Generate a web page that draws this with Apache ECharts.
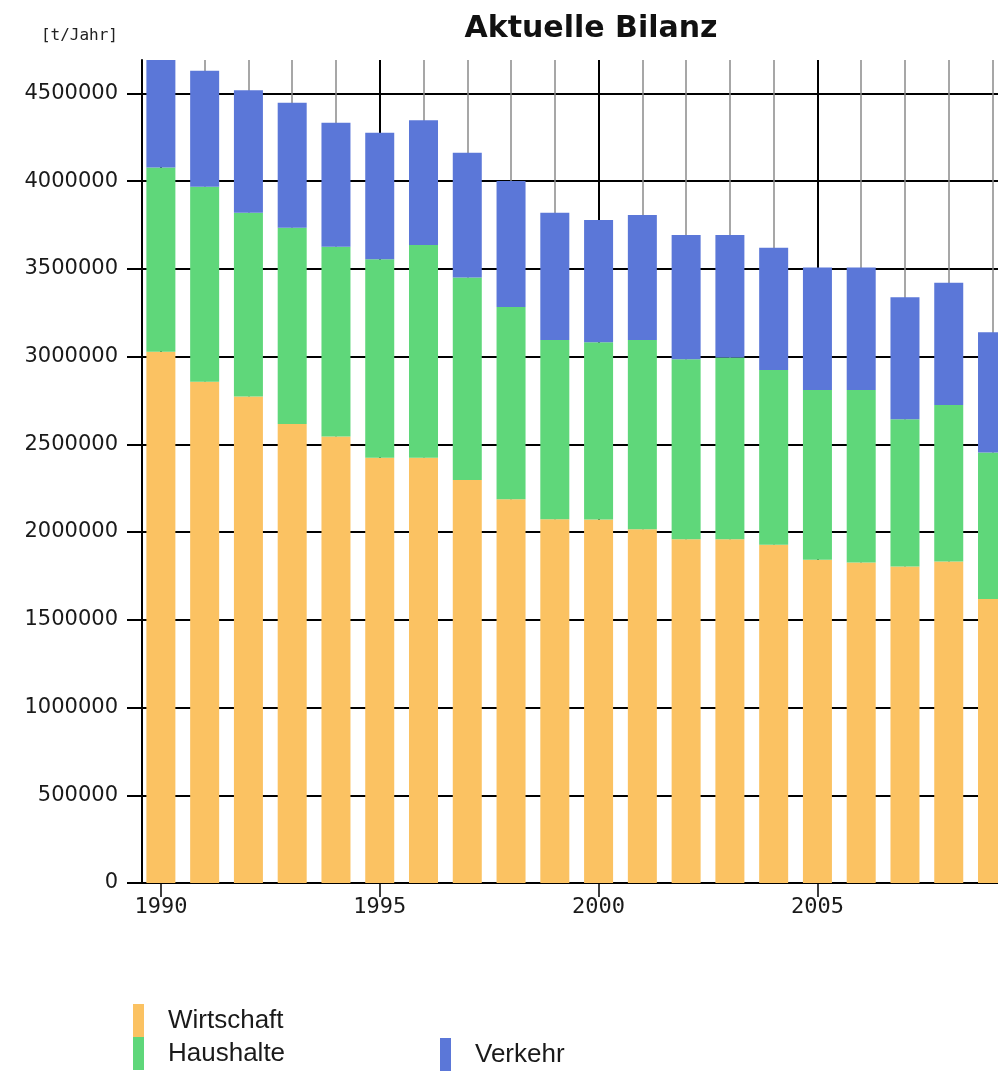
<!DOCTYPE html>
<html>
<head>
<meta charset="utf-8">
<script src="https://cdn.jsdelivr.net/npm/echarts@6/dist/echarts.min.js"></script>
<style>
  html, body { margin: 0; padding: 0; background: #ffffff; overflow: hidden; }
  #chart { width: 998px; height: 1071px; }
</style>
</head>
<body>
<div id="chart"></div>
<script>
// CO2 balance per sector, tonnes per year
const years = ['1990', '1991', '1992', '1993', '1994', '1995', '1996', '1997', '1998', '1999',
               '2000', '2001', '2002', '2003', '2004', '2005', '2006', '2007', '2008', '2009'];
const wirtschaft = [3028000, 2857000, 2772000, 2615000, 2544000, 2424000, 2424000, 2297000, 2187000, 2073000,
                    2071000, 2016000, 1959000, 1959000, 1927000, 1842000, 1827000, 1803000, 1832000, 1618000];
const haushalte = [1050000, 1111000, 1048000, 1119000, 1082000, 1130000, 1212000, 1153000, 1096000, 1022000,
                   1011000, 1079000, 1026000, 1035000, 997000, 968000, 983000, 840000, 892000, 835000];
const verkehr = [612000, 661000, 697000, 712000, 706000, 721000, 710000, 712000, 717000, 725000,
                 696000, 712000, 708000, 699000, 696000, 697000, 697000, 695000, 697000, 686000];
const yTicks = [0, 500000, 1000000, 1500000, 2000000, 2500000, 3000000, 3500000, 4000000, 4500000];
const xTickYears = ['1990', '1995', '2000', '2005'];

const seriesNames = ['Wirtschaft', 'Haushalte', 'Verkehr'];
const seriesColors = ['#fbc262', '#5fd77a', '#5b77d8'];

const majorLine = { color: '#000000', width: 2, type: 'solid' };
const minorLine = { color: '#8a8a8a', width: 1.5, type: 'solid' };

const isMajor = idx => xTickYears.indexOf(years[idx]) >= 0;

const chart = echarts.init(document.getElementById('chart'), null, { renderer: 'canvas' });

// one vertical grid line through every year, drawn behind the bars
const yearLines = years.map(y => ({
  xAxis: y,
  lineStyle: xTickYears.indexOf(y) >= 0 ? majorLine : minorLine
}));

const legendBase = {
  orient: 'vertical',
  padding: 0,
  itemWidth: 11, itemHeight: 33, itemGap: 0,
  icon: 'rect',
  selectedMode: false,
  textStyle: { fontFamily: 'Liberation Sans', fontSize: 26, color: '#1a1a1a', padding: [2, 0, 0, 19] }
};

const option = {
  backgroundColor: '#ffffff',
  animation: false,
  color: seriesColors,
  graphic: [
    {
      type: 'text', x: 591, y: 29, z: 10,
      style: {
        text: 'Aktuelle Bilanz', fill: '#111111',
        font: 'bold 30px "DejaVu Sans"',
        textAlign: 'center', textVerticalAlign: 'middle'
      }
    },
    {
      type: 'text', x: 118, y: 36, z: 10,
      style: {
        text: '[t/Jahr]', fill: '#222222',
        font: '16px "DejaVu Sans Mono"',
        textAlign: 'right', textVerticalAlign: 'middle'
      }
    }
  ],
  legend: [
    Object.assign({ data: ['Wirtschaft', 'Haushalte'], left: 133, top: 1004 }, legendBase),
    Object.assign({ data: ['Verkehr'], left: 440, top: 1038 }, legendBase)
  ],
  grid: {
    left: 139, right: -16.4, top: 60, bottom: 188,
    containLabel: false,
    outerBoundsMode: 'none'
  },
  xAxis: {
    type: 'category',
    data: years,
    boundaryGap: true,
    axisLine: { show: true, onZero: false, lineStyle: { color: '#000000', width: 2 } },
    axisTick: {
      show: true, inside: false, length: 14, alignWithLabel: true,
      interval: idx => isMajor(idx),
      lineStyle: { color: '#000000', width: 1.5 }
    },
    axisLabel: {
      show: true, margin: 13,
      interval: idx => isMajor(idx),
      fontFamily: 'DejaVu Sans Mono', fontSize: 22, color: '#1a1a1a'
    },
    splitLine: { show: false }
  },
  yAxis: {
    type: 'value',
    min: 0,
    max: 'dataMax',
    interval: 500000,
    offset: -3,
    axisLine: { show: true, lineStyle: { color: '#000000', width: 2 } },
    axisTick: {
      show: true, inside: false, length: 15, customValues: yTicks,
      lineStyle: { color: '#000000', width: 2 }
    },
    axisLabel: {
      show: true, margin: 24, customValues: yTicks,
      formatter: v => String(v),
      fontFamily: 'DejaVu Sans', fontSize: 21, color: '#1a1a1a'
    },
    splitLine: {
      show: true,
      lineStyle: { color: '#000000', width: 2, type: 'solid' }
    }
  },
  series: [
    {
      name: seriesNames[0], type: 'bar', stack: 'total', barWidth: 29,
      data: wirtschaft,
      itemStyle: { color: seriesColors[0] },
      markLine: {
        silent: true, z: 1, symbol: 'none', animation: false,
        label: { show: false },
        data: yearLines
      }
    },
    {
      name: seriesNames[1], type: 'bar', stack: 'total', barWidth: 29,
      data: haushalte,
      itemStyle: { color: seriesColors[1] }
    },
    {
      name: seriesNames[2], type: 'bar', stack: 'total', barWidth: 29,
      data: verkehr,
      itemStyle: { color: seriesColors[2] }
    }
  ]
};

chart.setOption(option);
</script>
</body>
</html>
